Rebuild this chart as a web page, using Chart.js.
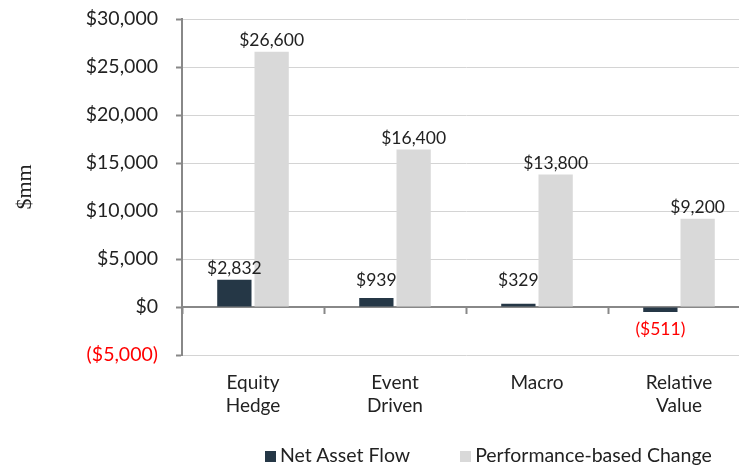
<!DOCTYPE html>
<html>
<head>
<meta charset="utf-8">
<title>Net Asset Flow vs Performance-based Change</title>
<script src="https://cdn.jsdelivr.net/npm/chart.js@4"></script>
<style>
  html, body { margin: 0; padding: 0; overflow: hidden; background: #fff; }
  #wrap { position: relative; width: 751px; height: 466px; }
  #legend {
    position: absolute; top: 443px; left: 265px;
    font: 19.5px Lato, sans-serif; color: #222; white-space: nowrap;
  }
  .legend__item { display: inline-flex; align-items: center; margin-right: 45px; }
  .legend__box { width: 11px; height: 11px; margin-right: 4px; margin-top: 4px; }
</style>
</head>
<body>
<div id="wrap">
  <canvas id="chart"></canvas>
  <div id="legend"></div>
</div>
<script>
// Chart data
const categories = [['Equity', 'Hedge'], ['Event', 'Driven'], ['Macro'], ['Relative', 'Value']];
const netAssetFlow = [2832, 939, 329, -511];
const performanceChange = [26600, 16400, 13800, 9200];
const seriesNames = ['Net Asset Flow', 'Performance-based Change'];
const seriesColors = ['#253746', '#d9d9d9'];
const yTicks = { min: -5000, max: 30000, step: 5000 };

const textColor = '#222';
const negColor = '#ff0000';
const axisColor = '#888';

// $1,234 / ($1,234)
function fmtMoney(v) {
  const s = '$' + Math.abs(v).toLocaleString('en-US');
  return v < 0 ? '(' + s + ')' : s;
}

// Value labels above (or below) each bar
const valueLabels = {
  id: 'valueLabels',
  afterDatasetsDraw(chart) {
    const ctx = chart.ctx;
    const zeroY = chart.scales.y.getPixelForValue(0);
    ctx.save();
    ctx.font = '17.5px Lato, sans-serif';
    ctx.textAlign = 'center';
    ctx.textBaseline = 'middle';
    chart.data.datasets.forEach((ds, di) => {
      const meta = chart.getDatasetMeta(di);
      meta.data.forEach((bar, i) => {
        const v = ds.data[i];
        let y;
        if (v >= 0) {
          y = Math.min(bar.y - 11, zeroY - 27);
          ctx.fillStyle = textColor;
        } else {
          y = bar.y + 17;
          ctx.fillStyle = negColor;
        }
        ctx.fillText(fmtMoney(v), bar.x, y);
      });
    });
    ctx.restore();
  }
};

const ctx = document.getElementById('chart');

new Chart(ctx, {
  type: 'bar',
  data: {
    labels: categories,
    datasets: [
      {
        label: seriesNames[0],
        data: netAssetFlow,
        backgroundColor: seriesColors[0],
        categoryPercentage: 0.525,
        barPercentage: 0.92
      },
      {
        label: seriesNames[1],
        data: performanceChange,
        backgroundColor: seriesColors[1],
        categoryPercentage: 0.525,
        barPercentage: 0.92
      }
    ]
  },
  options: {
    responsive: true,
    maintainAspectRatio: false,
    animation: false,
    layout: { padding: { top: 19, right: 1, left: 0, bottom: 0 } },
    plugins: {
      legend: { display: false },
      tooltip: { enabled: false }
    },
    scales: {
      x: {
        grid: { display: false },
        border: { display: false },
        ticks: {
          color: textColor,
          padding: 8,
          font: { family: 'Lato, sans-serif', size: 19, lineHeight: 1.22 },
          maxRotation: 0,
          autoSkip: false
        },
        afterFit(scale) { scale.height = 111; }
      },
      x2: {
        type: 'category',
        position: { y: 0 },
        offset: true,
        grid: {
          offset: true,
          drawOnChartArea: false,
          tickLength: 6,
          tickColor: axisColor,
          tickWidth: 2
        },
        border: { color: axisColor, width: 2 },
        ticks: { display: false }
      },
      y: {
        min: yTicks.min,
        max: yTicks.max,
        ticks: {
          stepSize: yTicks.step,
          padding: 18,
          color: c => (c.tick && c.tick.value < 0 ? negColor : textColor),
          font: { family: 'Lato, sans-serif', size: 19.5 },
          callback: v => fmtMoney(v)
        },
        grid: {
          color: '#d4d4d4',
          lineWidth: 1,
          borderDash: [2, 2],
          tickLength: 6,
          tickColor: axisColor,
          tickWidth: 2
        },
        border: { color: axisColor, width: 2 },
        title: {
          display: true,
          text: '$mm',
          color: textColor,
          font: { family: '"Liberation Serif", serif', size: 22, lineHeight: 1.1 },
          padding: { top: 13, bottom: 0 }
        },
        afterFit(scale) {
          scale.width = 182;
          // let layout padding decide the plot top
          scale.paddingTop = 0;
          scale.paddingBottom = 0;
        }
      }
    }
  },
  plugins: [valueLabels]
});

// Legend
document.getElementById('legend').innerHTML = seriesNames.map((name, i) => `
  <span class="legend__item">
    <span class="legend__box" style="background: ${seriesColors[i]}"></span>
    <span>${name}</span>
  </span>
`).join('');
</script>
</body>
</html>
